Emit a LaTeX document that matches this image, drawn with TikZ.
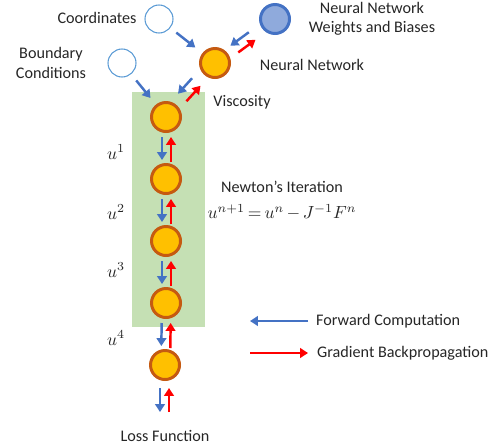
\documentclass[tikz,border=0pt]{standalone}
\usepackage{fontspec}
\setmainfont{Carlito}
\usetikzlibrary{arrows.meta,calc}
\definecolor{layerfill}{HTML}{FFC000}
\definecolor{layeredge}{HTML}{C55A11}
\definecolor{newtongreen}{HTML}{C5E0B4}
\definecolor{fwdblue}{HTML}{4472C4}
\definecolor{inputblue}{HTML}{5B9BD5}
\definecolor{weightblue}{HTML}{8FAADC}
\definecolor{gradred}{HTML}{FF0000}

\begin{document}
\begin{tikzpicture}[font=\fontsize{9.2}{11}\selectfont, text=black!85,
  layer/.style={circle, draw=layeredge, fill=layerfill, line width=1.7pt, minimum size=0.58cm, inner sep=0pt},
  inputnode/.style={circle, draw=inputblue, fill=white, line width=0.6pt, minimum size=0.56cm, inner sep=0pt},
  weightnode/.style={circle, draw=fwdblue, fill=weightblue, line width=1.7pt, minimum size=0.58cm, inner sep=0pt},
  mathlabel/.style={font=\fontsize{10.2}{12}\selectfont},
  fwd/.style={fwdblue, line width=1.4pt, -{Triangle[length=4.5pt,width=5.5pt]}},
  grad/.style={gradred, line width=1.4pt, -{Triangle[length=4.5pt,width=5.5pt]}}]
  \useasboundingbox (0,0) rectangle (9.94,-8.92);
  \fill[newtongreen] (2.64,-1.84) rectangle (4.10,-6.54);
  % inputs and network
  \node[inputnode] (coord) at (3.18,-0.38) {};
  \node[inputnode] (bc) at (2.44,-1.26) {};
  \node[weightnode] (weights) at (5.50,-0.38) {};
  \node[layer] (nn) at (4.30,-1.26) {};
  \node (coordtxt) at (1.94,-0.36) {Coordinates};
  \node[align=center] (bctxt) at (1.02,-1.26) {Boundary\\Conditions};
  \node[align=center] (weightstxt) at (7.44,-0.38) {Neural Network\\Weights and Biases};
  \node (nntxt) at (6.24,-1.30) {Neural Network};
  \node (visctxt) at (4.84,-2.04) {Viscosity};
  % newton steps
  \node[layer] (n0) at (3.32,-2.34) {};
  \node[layer] (n1) at (3.32,-3.58) {};
  \node[layer] (n2) at (3.32,-4.82) {};
  \node[layer] (n3) at (3.32,-6.06) {};
  \node[layer] (n4) at (3.30,-7.30) {};
  \node[mathlabel] (u1) at (2.32,-3.04) {$u^1$};
  \node[mathlabel] (u2) at (2.32,-4.24) {$u^2$};
  \node[mathlabel] (u3) at (2.32,-5.40) {$u^3$};
  \node[mathlabel] (u4) at (2.32,-6.76) {$u^4$};
  \node (newton) at (5.64,-3.74) {Newton’s Iteration};
  \node[mathlabel] (update) at (5.64,-4.24) {\thickmuskip=3mu\medmuskip=2.5mu$u^{n+1}=u^n-J^{-1}F^n$};
  \node (loss) at (3.30,-8.72) {Loss Function};
  % connectors
  \draw[fwd, shorten <=0.44cm, shorten >=0.50cm] (coord.center) -- (nn.center);
  \draw[fwd, shorten <=0.45cm, shorten >=0.49cm] (bc.center) -- (n0.center);
  \draw[fwd, shorten <=0.58cm, shorten >=0.45cm] ([shift={(-0.056,0.078)}]weights.center) -- ([shift={(-0.056,0.078)}]nn.center);
  \draw[grad, shorten <=0.50cm, shorten >=0.56cm] ([shift={(0.062,-0.084)}]nn.center) -- ([shift={(0.062,-0.084)}]weights.center);
  \draw[fwd, shorten <=0.52cm, shorten >=0.52cm] ([shift={(-0.11,0.08)}]nn.center) -- ([shift={(-0.11,0.08)}]n0.center);
  \draw[grad, shorten <=0.52cm, shorten >=0.52cm] ([shift={(0.06,-0.07)}]n0.center) -- ([shift={(0.06,-0.07)}]nn.center);
  \foreach \a/\b in {n0/n1,n1/n2,n2/n3,n3/n4}{
    \draw[fwd, shorten <=0.40cm, shorten >=0.38cm] ([xshift=-0.08cm]\a.center) -- ([xshift=-0.08cm]\b.center);
    \draw[grad, shorten <=0.34cm, shorten >=0.40cm] ([xshift=0.10cm]\b.center) -- ([xshift=0.10cm]\a.center);
  }
  \draw[fwd, shorten <=0.46cm, shorten >=0.48cm] ([xshift=-0.10cm]n4.center) -- ([xshift=-0.10cm]loss.center);
  \draw[grad, shorten <=0.48cm, shorten >=0.46cm] ([xshift=0.08cm]loss.center) -- ([xshift=0.08cm]n4.center);
  % legend
  \node[anchor=west] (fwdtxt) at (6.20,-6.42) {Forward Computation};
  \node[anchor=west] (gradtxt) at (6.22,-7.06) {Gradient Backpropagation};
  \coordinate (fwdend) at (5.00,-6.42);
  \coordinate (gradstart) at (5.00,-7.06);
  \draw[fwd] ([xshift=-0.04cm]fwdtxt.west) -- (fwdend);
  \draw[grad] (gradstart) -- ([xshift=-0.06cm]gradtxt.west);
\end{tikzpicture}
\end{document}
